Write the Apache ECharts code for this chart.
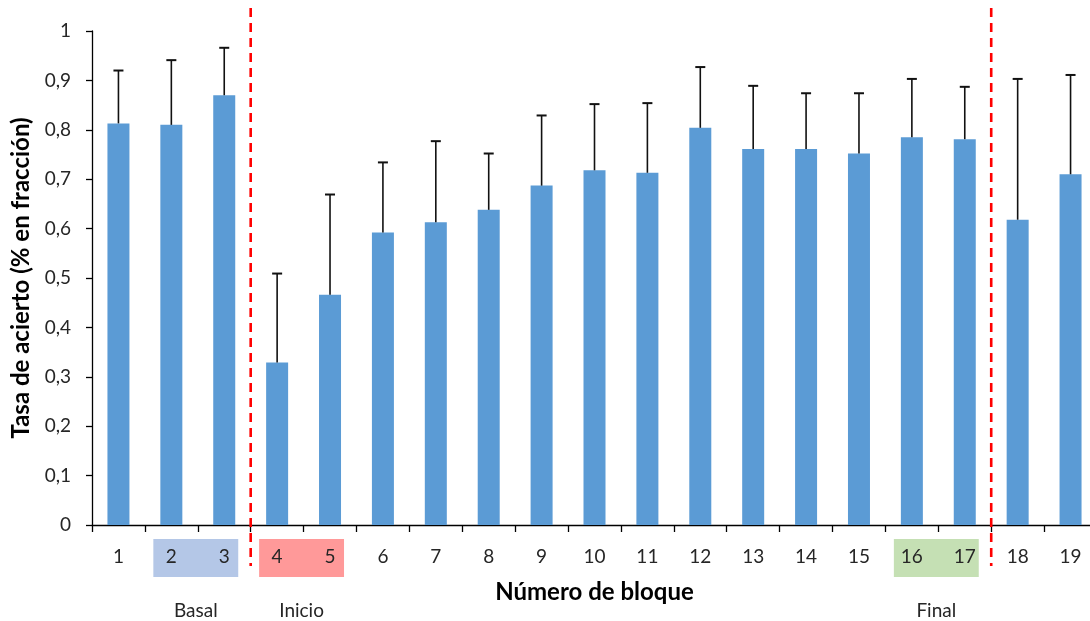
<!DOCTYPE html>
<html><head><meta charset="utf-8">
<script src="https://cdn.jsdelivr.net/npm/echarts@6/dist/echarts.min.js"></script>
<style>html,body{margin:0;padding:0;background:#fff}#c{width:1090px;height:621px}</style>
</head><body><div id="c"></div>
<script>
const categories = ['1','2','3','4','5','6','7','8','9','10','11','12','13','14','15','16','17','18','19'];
const values = [0.813,0.810,0.870,0.329,0.466,0.592,0.613,0.638,0.687,0.718,0.713,0.804,0.761,0.761,0.752,0.785,0.781,0.618,0.710];
const errors = [0.107,0.131,0.096,0.180,0.203,0.142,0.164,0.114,0.142,0.134,0.141,0.123,0.128,0.113,0.122,0.118,0.106,0.285,0.201];
const yTickLabels = ['0','0,1','0,2','0,3','0,4','0,5','0,6','0,7','0,8','0,9','1'];
const separatorsAfter = ['3','17'];
const groupNames = ['Basal','Inicio','Final'];
const groupStart = ['2','4','16'];
const groupEnd = ['3','5','17'];
const groupColors = ['#B4C7E7','#FF9999','#C5E0B4'];

const FONT = 'Lato';
const chart = echarts.init(document.getElementById('c'), null, {renderer:'canvas'});
chart.setOption({
  animation:false,
  textStyle:{fontFamily:FONT},
  grid:{left:92, width:1005, top:31, bottom:96, containLabel:false, outerBoundsMode:'none'},
  xAxis:{
    type:'category', data:categories,
    axisLine:{lineStyle:{color:'#000', width:1.3}},
    axisTick:{show:true, length:7, lineStyle:{color:'#000', width:1.3}},
    axisLabel:{color:'#262626', fontSize:19, margin:22, fontFamily:FONT},
    name:'Número de bloque', nameLocation:'middle', nameGap:55,
    nameTextStyle:{fontSize:24, fontWeight:'bold', color:'#000', fontFamily:FONT}
  },
  yAxis:{
    type:'value', min:0, max:1, interval:0.1,
    splitLine:{show:false},
    axisLine:{show:true, lineStyle:{color:'#000', width:1.3}},
    axisTick:{show:true, length:6, lineStyle:{color:'#000', width:1.3}},
    axisLabel:{color:'#262626', fontSize:19, margin:21, fontFamily:FONT,
      formatter:v=>yTickLabels[Math.round(v*10)]},
    name:'Tasa de acierto (% en fracción)', nameLocation:'middle', nameGap:58,
    nameTextStyle:{fontSize:24, fontWeight:'bold', color:'#000', fontFamily:FONT}
  },
  series:[
    {type:'bar', data:values, barWidth:22, itemStyle:{color:'#5B9BD5'}, z:2},
    {type:'custom', z:3,
      data:categories.map((c,i)=>[i, values[i], errors[i]]),
      renderItem:(params, api)=>{
        const x=api.value(0), v=api.value(1), e=api.value(2);
        const p0=api.coord([x,v]), p1=api.coord([x,v+e]);
        return {type:'group', children:[
          {type:'line', shape:{x1:p0[0],y1:p0[1],x2:p1[0],y2:p1[1]}, style:{stroke:'#111',lineWidth:1.6}},
          {type:'line', shape:{x1:p1[0]-5,y1:p1[1],x2:p1[0]+5,y2:p1[1]}, style:{stroke:'#111',lineWidth:2}}
        ]};
      }
    }
  ]
});

function cx(cat){ return chart.convertToPixel({xAxisIndex:0}, cat); }
const y0 = chart.convertToPixel({yAxisIndex:0}, 0);
const y1 = chart.convertToPixel({yAxisIndex:0}, 1);
const graphics = [];
groupNames.forEach((g,i)=>{
  const a = cx(groupStart[i]), b = cx(groupEnd[i]);
  const left = a - 18, right = b + 14;
  graphics.push({type:'rect', z:-10, shape:{x:left, y:y0+14, width:right-left, height:38}, style:{fill:groupColors[i]}});
  graphics.push({type:'text', z:5, x:(left+right)/2, y:y0+86, style:{text:g, fill:'#262626', font:'19px '+FONT, textAlign:'center', textVerticalAlign:'middle'}});
});
separatorsAfter.forEach(c=>{
  const i = categories.indexOf(c);
  const x = (cx(categories[i]) + cx(categories[i+1]))/2;
  graphics.push({type:'line', z:10, shape:{x1:x, y1:y1-23, x2:x, y2:y0+41}, style:{stroke:'#FF0000', lineWidth:2.6, lineDash:[9,6]}});
});
chart.setOption({graphic:graphics});
</script>
</body></html>
